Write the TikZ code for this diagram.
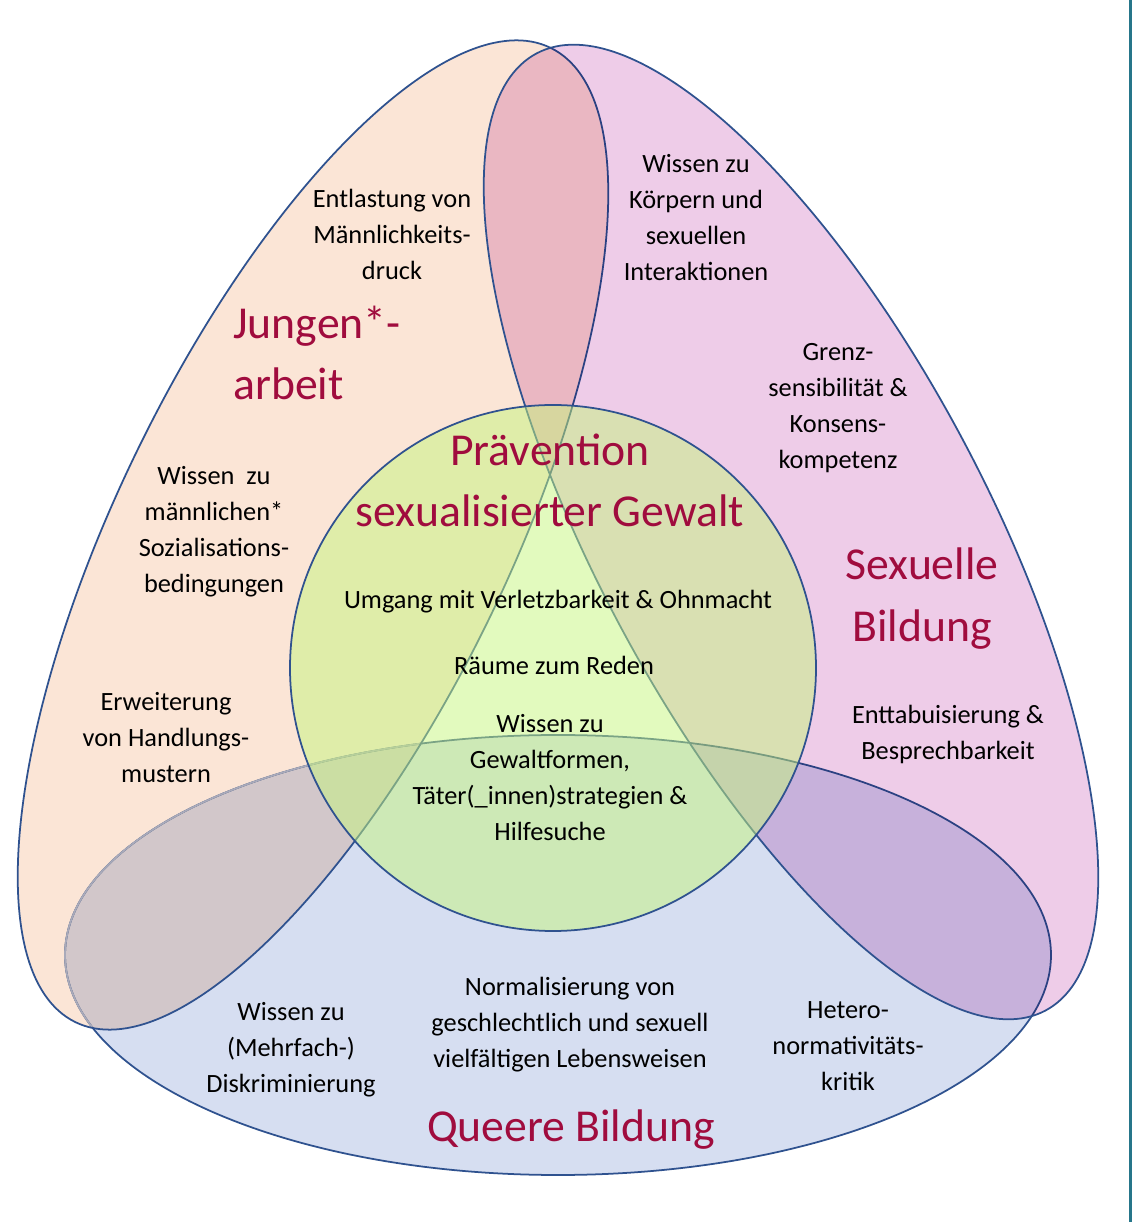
\documentclass[tikz,border=0pt]{standalone}
\usepackage{fontspec}
\setmainfont{Carlito}

\definecolor{lineblue}{RGB}{47,82,143}
\definecolor{headred}{RGB}{160,12,62}
\definecolor{jafill}{RGB}{251,229,214}
\definecolor{sbfill}{RGB}{238,204,232}
\definecolor{qbfill}{RGB}{214,222,241}
\definecolor{pvfill}{RGB}{197,245,125}
\definecolor{frameteal}{RGB}{38,118,138}

\begin{document}
\begin{tikzpicture}[
  txt/.style={align=center, inner sep=0pt, font=\fontsize{15}{20.5}\selectfont},
  head/.style={align=center, inner sep=0pt, text=headred, font=\fontsize{26}{35}\selectfont},
  rim/.style={draw=lineblue, line width=1pt}]
  \useasboundingbox (0,0) rectangle (22.64,24.44);

  % Queere Bildung
  \path[fill=qbfill, rim] (11.16,5.34) ellipse [x radius=9.86, y radius=4.4];
  % Jungen*arbeit
  \path[fill=jafill, blend mode=multiply] [rotate around={64:(6.26,13.74)}]
    (6.26,13.74) ellipse [x radius=10.84, y radius=3.9];
  \begin{scope}
    \clip[rotate around={64:(6.26,13.74)}] (6.26,13.74) ellipse [x radius=10.84, y radius=3.9];
    \draw[line width=1pt, lineblue!40!jafill] (11.16,5.34) ellipse [x radius=9.86, y radius=4.4];
  \end{scope}
  \draw[rim, rotate around={64:(6.26,13.74)}] (6.26,13.74) ellipse [x radius=10.84, y radius=3.9];
  % Sexuelle Bildung
  \path[fill=sbfill, blend mode=multiply] [rotate around={-62:(15.82,13.8)}]
    (15.82,13.8) ellipse [x radius=10.84, y radius=3.9];
  \draw[rim, rotate around={-62:(15.82,13.8)}] (15.82,13.8) ellipse [x radius=10.84, y radius=3.9];
  % Praevention
  \path[fill=pvfill, fill opacity=0.5, rim] (11.06,11.08) circle [radius=5.26];

  \fill[frameteal] (22.58,0) rectangle (22.64,24.44);

  \node[txt] (entlastung) at (7.84,19.76) {Entlastung von\\Männlichkeits-\\druck};
  \node[txt] (koerper) at (13.92,20.09) {Wissen zu\\Körpern und\\sexuellen\\Interaktionen};
  \node[head, align=left, anchor=west] (jungen) at (4.66,17.38) {Jungen*-\\arbeit};
  \node[txt] (grenz) at (16.76,16.28) {Grenz-\\sensibilität \&\\Konsens-\\kompetenz};
  \node[head] (praevention) at (11.0,14.83) {Prävention\\sexualisierter Gewalt};
  \node[txt] (sozial) at (4.28,13.81) {Wissen\ \ zu\\männlichen*\\Sozialisations-\\bedingungen};
  \node[head] (sexuelle) at (18.44,12.47) {Sexuelle\\Bildung};
  \node[txt] (umgang) at (11.16,12.4) {Umgang mit Verletzbarkeit \& Ohnmacht};
  \node[txt] (raeume) at (11.08,11.14) {Räume zum Reden};
  \node[txt] (erweiterung) at (3.32,9.68) {Erweiterung\\von Handlungs-\\mustern};
  \node[txt] (enttabu) at (18.96,9.76) {Enttabuisierung \&\\Besprechbarkeit};
  \node[txt] (gewalt) at (11.0,8.89) {Wissen zu\\Gewaltformen,\\Täter(\_innen)strategien \&\\Hilfesuche};
  \node[txt] (normal) at (11.4,3.94) {Normalisierung von\\geschlechtlich und sexuell\\vielfältigen Lebensweisen};
  \node[txt] (diskrim) at (5.82,3.44) {Wissen zu\\(Mehrfach-)\\Diskriminierung};
  \node[txt] (hetero) at (16.96,3.52) {Hetero-\\normativitäts-\\kritik};
  \node[head] (queer) at (11.42,1.84) {Queere Bildung};
\end{tikzpicture}
\end{document}
